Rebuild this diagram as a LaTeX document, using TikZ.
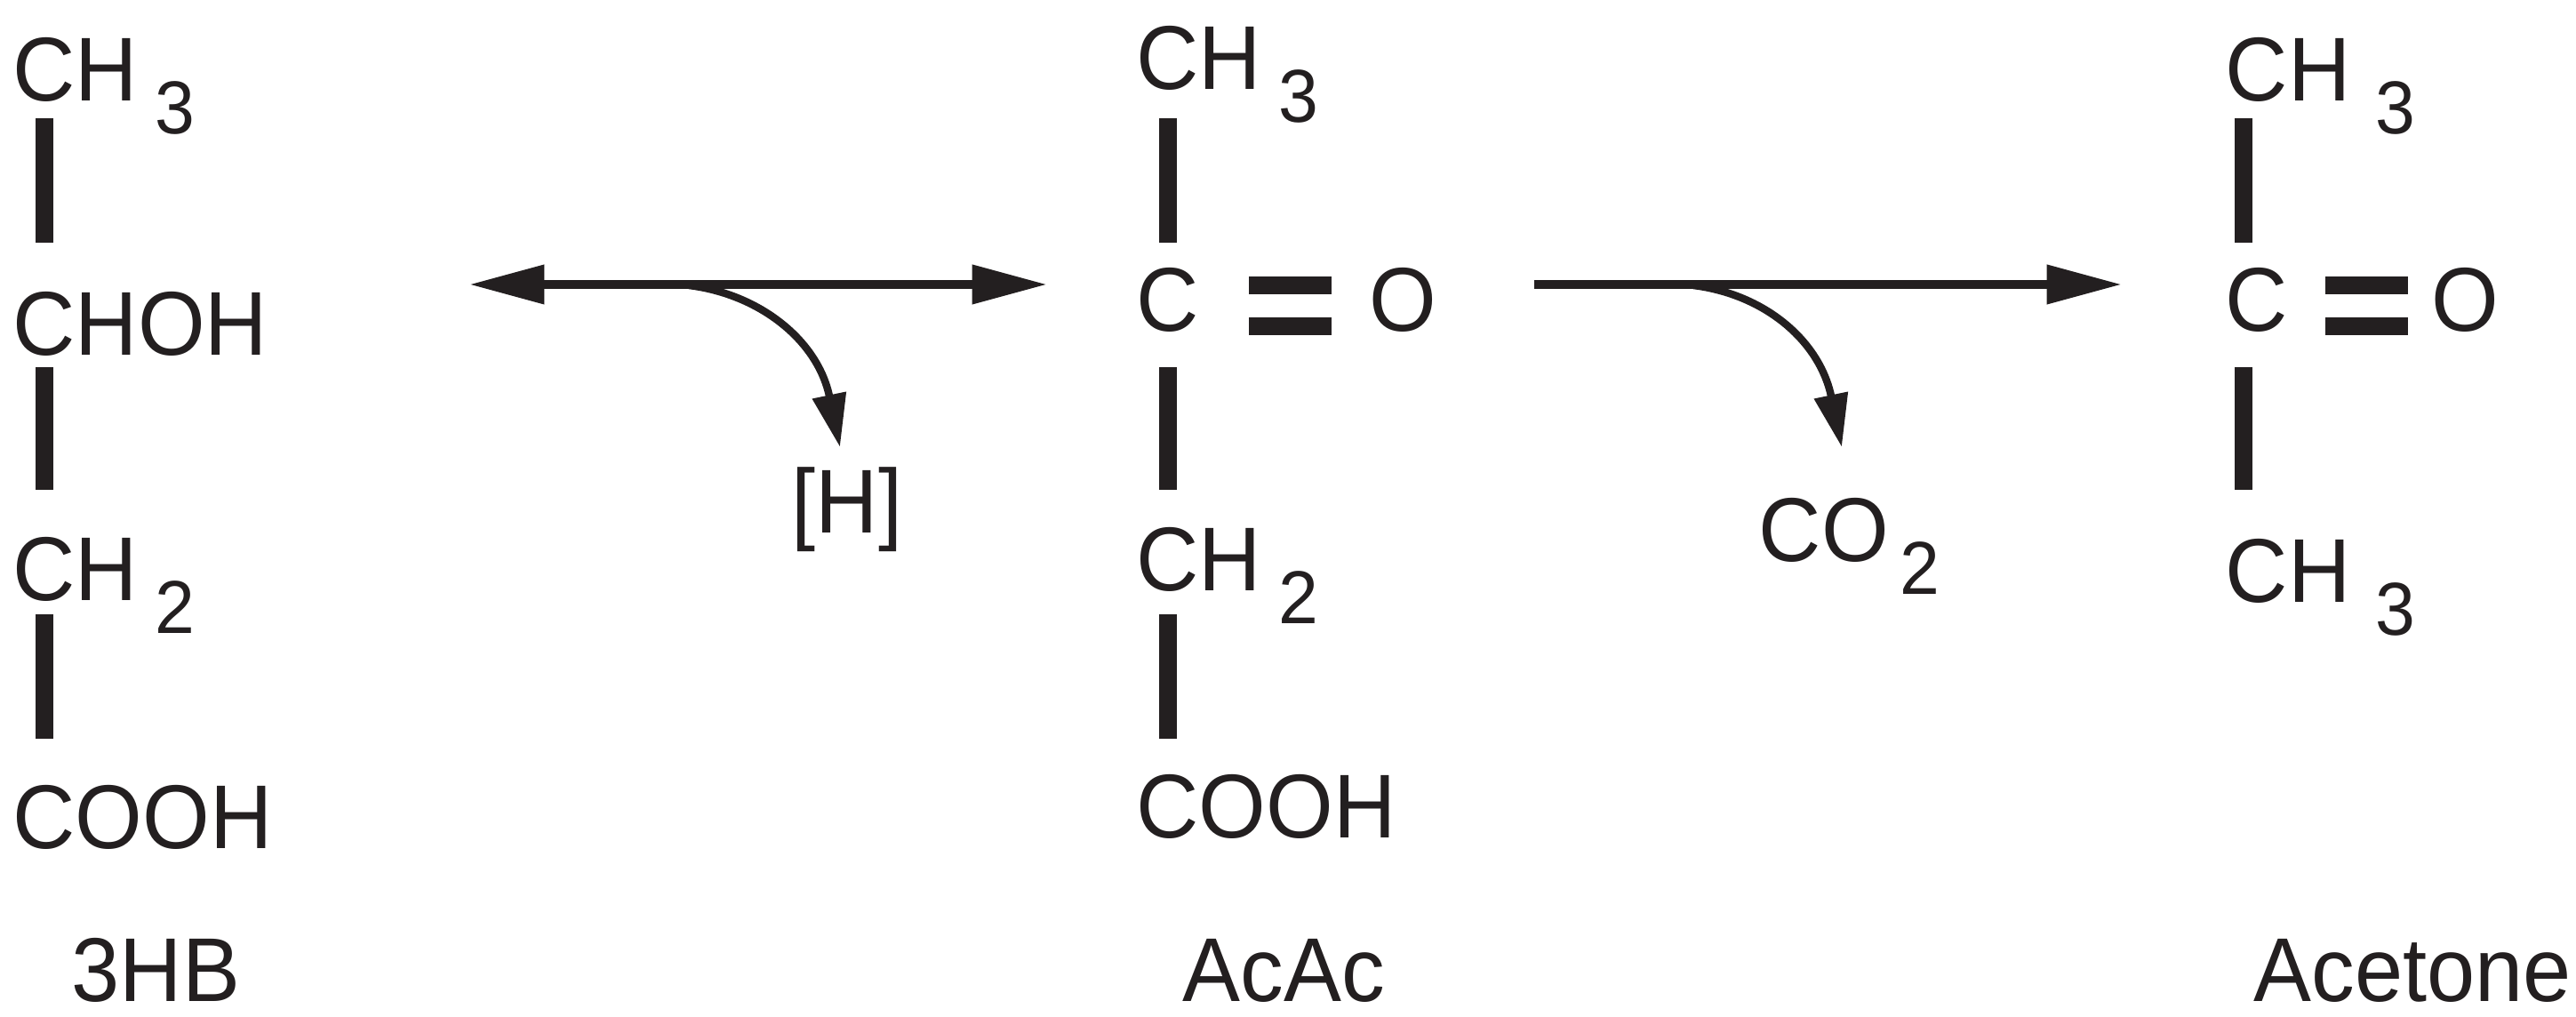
\documentclass[tikz,border=0pt]{standalone}
\usepackage{fontspec}
\setmainfont[FakeStretch=0.955]{Liberation Sans}
\usetikzlibrary{arrows.meta}
\definecolor{inkc}{HTML}{231F20}
\tikzset{
    label text/.style={inner sep=0pt,anchor=base west,text=inkc,font=\fontsize{29}{32}\selectfont},
    bond/.style={draw=inkc,line width=5.5pt},
    flow/.style={draw=inkc,line width=2.8pt,-{Triangle[length=24pt,width=12pt]}},
    flow both/.style={draw=inkc,line width=2.8pt,{Triangle[length=24pt,width=12pt]}-{Triangle[length=24pt,width=12pt]}},
    side/.style={draw=inkc,line width=2.4pt,-{Triangle[length=17pt,width=10.5pt]}}
}
\newcommand{\lowered}[3][5.5pt]{#2\hspace{#1}\raisebox{-10.5pt}{\fontsize{24}{26}\selectfont #3}}
\begin{document}
\begin{tikzpicture}
    \useasboundingbox (0,0) rectangle (28.98,11.43);
    % 3HB
    \node [label text] (hbone) at (0.14,10.29) {\lowered{CH}{3}};
    \node [label text] (hbtwo) at (0.14,7.43) {CHOH};
    \node [label text] (hbthree) at (0.14,4.67) {\lowered{CH}{2}};
    \node [label text] (hbfour) at (0.14,1.88) {COOH};
    \node [label text] (hbname) at (0.80,0.17) {3HB};
    \draw [bond] (0.50,10.10)--(0.50,8.70);
    \draw [bond] (0.50,7.30)--(0.50,5.92);
    \draw [bond] (0.50,4.52)--(0.50,3.12);
    % AcAc
    \node [label text] (acone) at (12.78,10.42) {\lowered{CH}{3}};
    \node [label text] (actwo) at (12.78,7.70) {C};
    \node [label text] (acoxy) at (15.40,7.70) {O};
    \node [label text] (acthree) at (12.78,4.78) {\lowered{CH}{2}};
    \node [label text] (acfour) at (12.78,2.00) {COOH};
    \node [label text] (acname) at (13.30,0.17) {AcAc};
    \draw [bond] (13.14,10.10)--(13.14,8.70);
    \draw [bond] (13.14,7.30)--(13.14,5.92);
    \draw [bond] (13.14,4.52)--(13.14,3.12);
    \draw [bond] (14.05,8.22)--(14.98,8.22);
    \draw [bond] (14.05,7.76)--(14.98,7.76);
    % Acetone
    \node [label text] (atone) at (25.03,10.29) {\lowered[8pt]{CH}{3}};
    \node [label text] (attwo) at (25.03,7.70) {C};
    \node [label text] (atoxy) at (27.35,7.70) {O};
    \node [label text] (atthree) at (25.03,4.65) {\lowered[8pt]{CH}{3}};
    \node [label text] (atname) at (25.35,0.17) {Acetone};
    \draw [bond] (25.24,10.10)--(25.24,8.70);
    \draw [bond] (25.24,7.30)--(25.24,5.92);
    \draw [bond] (26.16,8.22)--(27.09,8.22);
    \draw [bond] (26.16,7.76)--(27.09,7.76);
    % arrows
    \coordinate (leftend) at (5.28,8.23);
    \coordinate (midend) at (11.78,8.23);
    \coordinate (bendh) at (7.75,8.22);
    \coordinate (tiph) at (9.45,6.40);
    \coordinate (rightstart) at (17.26,8.23);
    \coordinate (rightend) at (23.87,8.23);
    \coordinate (bendco) at (19.05,8.22);
    \coordinate (tipco) at (20.72,6.40);
    \draw [flow both] (leftend)--(midend);
    \draw [flow] (rightstart)--(rightend);
    \draw [side] (bendh) .. controls (8.55,8.12) and (9.20,7.60) .. (tiph);
    \draw [side] (bendco) .. controls (19.85,8.12) and (20.47,7.60) .. (tipco);
    \node [label text] (hyd) at (8.90,5.43) {[H]};
    \node [label text] (co) at (19.78,5.11) {\lowered[3.5pt]{CO}{2}};
\end{tikzpicture}
\end{document}
